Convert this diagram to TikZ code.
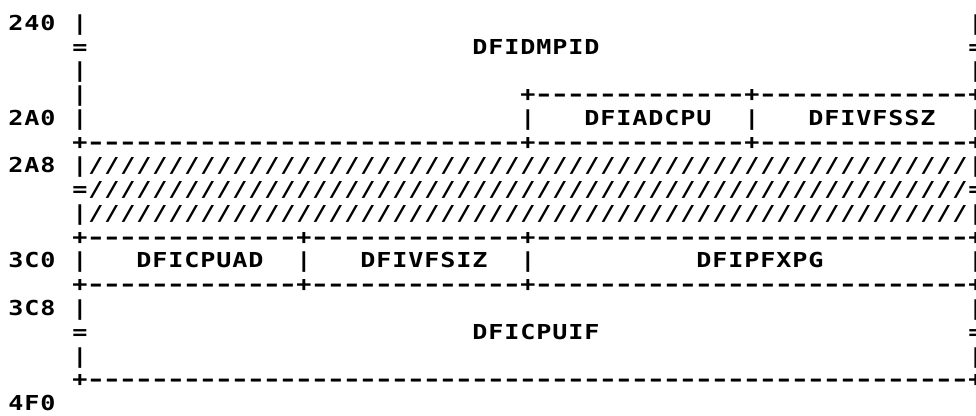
\documentclass[tikz,border=0pt]{standalone}
\usepackage{fontspec}
\usepackage{graphicx}
\newfontfamily\prt[FakeStretch=1.22]{DejaVu Sans Mono}
\newlength\cw \setlength\cw{16pt}
\newcommand\onecell[1]{\makebox[\cw][c]{#1}}
\newcommand\dashcell{\makebox[\cw][c]{\scalebox{1.3}[1]{-}}}
\def\word#1{\wordloop#1\relax}
\def\wordloop#1{\ifx\relax#1\else\onecell{#1}\expandafter\wordloop\fi}
\newcommand\blank[1]{\hspace*{#1\cw}}
\newcommand\rep[2]{\foreach\ii in {1,...,#1}{\onecell{#2}}}
\newcommand\dashes[1]{\foreach\ii in {1,...,#1}{\dashcell}}
\tikzset{row/.style={anchor=base west, inner sep=0pt, outer sep=0pt, font=\prt\bfseries\fontsize{20.6pt}{24pt}\selectfont}}
\begin{document}
\begin{tikzpicture}[x=1pt,y=1pt]
\fill[white] (0,0) rectangle (976,415);
\useasboundingbox (0,0) rectangle (976,415);
\clip (0,0) rectangle (976,415);
\node[row] (l1) at (8,384.5) {\word{240}\blank{1}\onecell{|}\blank{55}\onecell{|}};
\node[row] (l2) at (8,360.75) {\blank{4}\onecell{=}\blank{24}\word{DFIDMPID}\blank{23}\onecell{=}};
\node[row] (l3) at (8,337) {\blank{4}\onecell{|}\blank{55}\onecell{|}};
\node[row] (l4) at (8,313.25) {\blank{4}\onecell{|}\blank{27}\onecell{+}\dashes{13}\onecell{+}\dashes{13}\onecell{+}};
\node[row] (l5) at (8,289.5) {\word{2A0}\blank{1}\onecell{|}\blank{27}\onecell{|}\blank{3}\word{DFIADCPU}\blank{2}\onecell{|}\blank{3}\word{DFIVFSSZ}\blank{2}\onecell{|}};
\node[row] (l6) at (8,265.75) {\blank{4}\onecell{+}\dashes{27}\onecell{+}\dashes{13}\onecell{+}\dashes{13}\onecell{+}};
\node[row] (l7) at (8,242) {\word{2A8}\blank{1}\onecell{|}\rep{55}{/}\onecell{|}};
\node[row] (l8) at (8,218.25) {\blank{4}\onecell{=}\rep{55}{/}\onecell{=}};
\node[row] (l9) at (8,194.5) {\blank{4}\onecell{|}\rep{55}{/}\onecell{|}};
\node[row] (l10) at (8,170.75) {\blank{4}\onecell{+}\dashes{13}\onecell{+}\dashes{13}\onecell{+}\dashes{27}\onecell{+}};
\node[row] (l11) at (8,147) {\word{3C0}\blank{1}\onecell{|}\blank{3}\word{DFICPUAD}\blank{2}\onecell{|}\blank{3}\word{DFIVFSIZ}\blank{2}\onecell{|}\blank{10}\word{DFIPFXPG}\blank{9}\onecell{|}};
\node[row] (l12) at (8,123.25) {\blank{4}\onecell{+}\dashes{13}\onecell{+}\dashes{13}\onecell{+}\dashes{27}\onecell{+}};
\node[row] (l13) at (8,99.5) {\word{3C8}\blank{1}\onecell{|}\blank{55}\onecell{|}};
\node[row] (l14) at (8,75.75) {\blank{4}\onecell{=}\blank{24}\word{DFICPUIF}\blank{23}\onecell{=}};
\node[row] (l15) at (8,52) {\blank{4}\onecell{|}\blank{55}\onecell{|}};
\node[row] (l16) at (8,28.25) {\blank{4}\onecell{+}\dashes{55}\onecell{+}};
\node[row] (l17) at (8,4.5) {\word{4F0}};
\end{tikzpicture}
\end{document}
